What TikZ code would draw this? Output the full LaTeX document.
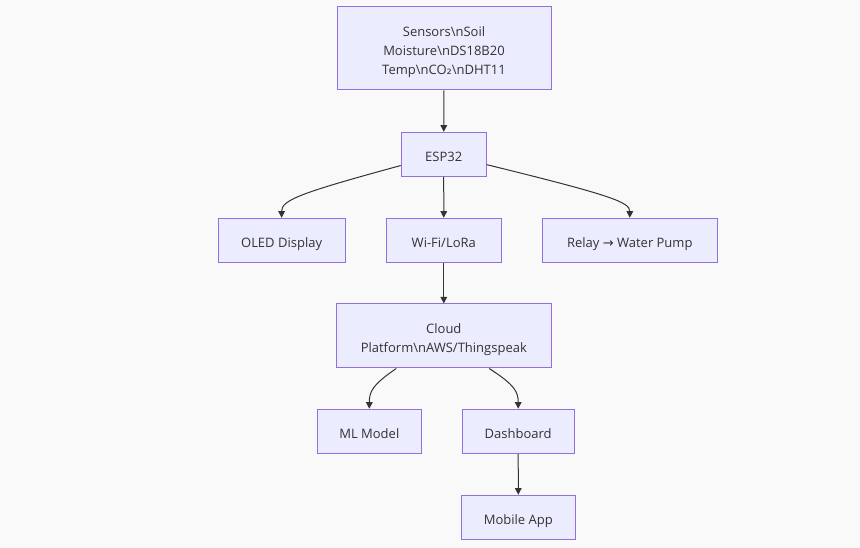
\documentclass[tikz,border=0pt]{standalone}
\usepackage{fontspec}
\setmainfont{Open Sans}
\newfontfamily\symfont{DejaVu Sans}
\usetikzlibrary{arrows.meta,calc}
\definecolor{bgc}{HTML}{F9F9F9}
\definecolor{nodefill}{HTML}{ECECFF}
\definecolor{nodeline}{HTML}{9370DB}
\definecolor{txt}{HTML}{333333}
\newcommand\lowtext[1]{\raisebox{-2.4pt}[\height][\depth]{\begin{tabular}{@{}c@{}}#1\end{tabular}}}
\tikzset{
  box/.style 2 args={draw=nodeline, fill=nodefill, line width=0.75pt, rectangle,
    minimum width=#1*0.75pt, minimum height=#2*0.75pt, inner sep=0pt,
    align=center, text=txt, font=\fontsize{9.75}{14.25}\selectfont},
  conn/.style={draw=txt, line width=0.75pt, -{Triangle[length=5pt,width=5pt]}}
}
\begin{document}
\begin{tikzpicture}[x=0.75pt,y=-0.75pt]
\fill[bgc] (0,0) rectangle (860,548);
\useasboundingbox (0,0) rectangle (860,548);
\node[box={214}{83}] (sens) at (444,48.5) {\lowtext{Sensors\textbackslash nSoil\\Moisture\textbackslash nDS18B20\\Temp\textbackslash nCO{\symfont ₂}\textbackslash nDHT11}};
\node[box={85}{44}] (esp) at (443.7,154.3) {\lowtext{ESP32}};
\node[box={127}{44}] (oled) at (281.6,240.3) {\lowtext{OLED Display}};
\node[box={115.5}{44}] (wifi) at (443.8,240.3) {\lowtext{Wi-Fi/LoRa}};
\node[box={175}{44}] (relay) at (629.8,240.3) {\lowtext{Relay {\symfont →} Water Pump}};
\node[box={215}{64}] (cloud) at (443.8,336) {\lowtext{Cloud\\Platform\textbackslash nAWS/Thingspeak}};
\node[box={104}{44.5}] (ml) at (369.3,431.5) {\lowtext{ML Model}};
\node[box={111.7}{44.5}] (dash) at (518.2,431.5) {\lowtext{Dashboard}};
\node[box={114}{44.5}] (mob) at (518.3,517.5) {\lowtext{Mobile App}};
\coordinate (eL) at ($(esp.south west)!0.25!(esp.north west)$);
\coordinate (eR) at ($(esp.south east)!0.27!(esp.north east)$);
\coordinate (cL) at ($(cloud.south west)!0.28!(cloud.south east)$);
\coordinate (cR) at ($(cloud.south west)!0.71!(cloud.south east)$);
\draw[conn] (sens) -- (esp);
\draw[conn] (esp) -- (wifi);
\draw[conn] (wifi) -- (cloud);
\draw[conn] (dash) -- (mob);
\draw[conn] (eL) .. controls (300,193) and (281.6,200) .. (oled.north);
\draw[conn] (eR) .. controls (610,195) and (629.8,202) .. (relay.north);
\draw[conn] (cL) .. controls (372,385) and (369.3,392) .. (ml.north);
\draw[conn] (cR) .. controls (515,385) and (518.2,392) .. (dash.north);
\end{tikzpicture}
\end{document}
